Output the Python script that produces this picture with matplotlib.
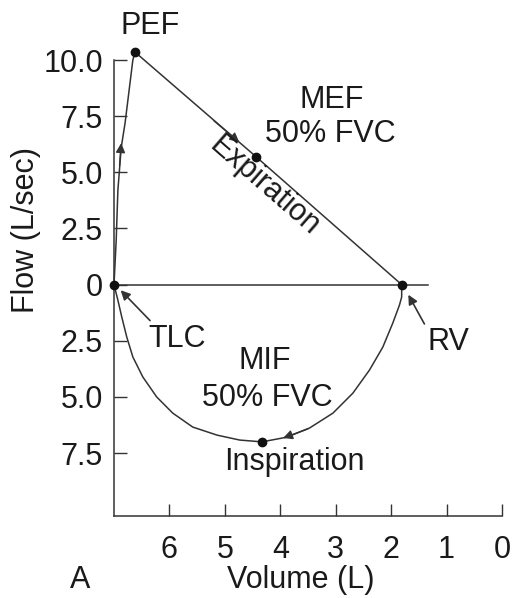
import matplotlib
matplotlib.use("Agg")
import matplotlib.pyplot as plt

plt.rcParams['font.family'] = ['Liberation Sans', 'DejaVu Sans']

# ---- data ----
# expiratory rise TLC -> PEF
exp_rise_vol = [7.0, 6.96, 6.93, 6.87, 6.80, 6.71, 6.66, 6.62]
exp_rise_flow = [0.0, 2.0, 4.2, 6.1, 7.2, 9.0, 10.0, 10.35]
# expiratory descending limb PEF -> MEF -> RV
exp_fall_vol = [6.62, 4.44, 1.81]
exp_fall_flow = [10.35, 5.7, 0.0]
# inspiratory limb RV -> MIF -> TLC
insp_vol = [1.81, 1.81, 1.85, 1.97, 2.15, 2.39, 2.69, 3.05, 3.47, 3.88,
            4.33, 4.73, 5.14, 5.58, 5.94, 6.23, 6.48, 6.66, 6.77, 6.86,
            6.93, 7.0]
insp_flow = [0.0, -0.55, -0.91, -1.71, -2.78, -3.80, -4.83, -5.72, -6.38,
             -6.79, -7.0, -6.92, -6.70, -6.34, -5.72, -5.0, -4.11, -3.22,
             -2.33, -1.44, -0.69, 0.0]
# marked points
pt_vol = [6.62, 4.44, 1.81, 7.0, 4.33]
pt_flow = [10.35, 5.7, 0.0, 0.0, -7.0]
# zero flow line
zero_vol = [7.0, 1.34]
zero_flow = [0.0, 0.0]

x_ticks = [6, 5, 4, 3, 2, 1, 0]
x_labels = ['6', '5', '4', '3', '2', '1', '0']
y_ticks = [10, 7.5, 5, 2.5, 0, -2.5, -5, -7.5]
y_labels = ['10.0', '7.5', '5.0', '2.5', '0', '2.5', '5.0', '7.5']

LC = '#333333'
TC = '#1a1a1a'
FS = 22

fig = plt.figure(figsize=(5.15, 5.98), dpi=100)
ax = fig.add_axes([114/515, 1-516/598, (502-114)/515, (516-60)/598])
ax.set_xlim(7, 0)
ax.set_ylim(-10.3, 10)

for s in ['top', 'right']:
    ax.spines[s].set_visible(False)
for s in ['left', 'bottom']:
    ax.spines[s].set_color(LC)
    ax.spines[s].set_linewidth(1.1)

ax.set_xticks(x_ticks)
ax.set_xticklabels(x_labels)
ax.set_yticks(y_ticks)
ax.set_yticklabels(y_labels)
ax.tick_params(axis='both', direction='in', length=9, width=1.0, color=LC,
               labelsize=FS, labelcolor=TC)
ax.tick_params(axis='x', pad=14)
ax.tick_params(axis='y', pad=8)

lw = 1.1
ax.plot(zero_vol, zero_flow, color=LC, lw=lw, clip_on=False)
ax.plot(exp_rise_vol, exp_rise_flow, color=LC, lw=lw, clip_on=False)
ax.plot(exp_fall_vol, exp_fall_flow, color=LC, lw=lw, clip_on=False)
ax.plot(insp_vol, insp_flow, color=LC, lw=lw, clip_on=False)
ax.plot(pt_vol, pt_flow, 'o', color='#111111', ms=6, clip_on=False, zorder=5)

# direction arrowheads along the loop
ap = dict(arrowstyle='-|>', color=LC, lw=1.0, mutation_scale=14, shrinkA=0, shrinkB=0)
ax.annotate('', xy=(6.87, 6.3), xytext=(6.90, 5.3), arrowprops=ap)
ax.annotate('', xy=(4.74, 6.34), xytext=(5.2, 7.3), arrowprops=ap)
ax.annotate('', xy=(3.95, -6.83), xytext=(3.5, -6.42), arrowprops=ap)

# pointer arrows
ap2 = dict(arrowstyle='-|>', color=LC, lw=1.2, mutation_scale=14, shrinkA=0, shrinkB=0)
ax.annotate('', xy=(6.88, -0.25), xytext=(6.35, -1.6), arrowprops=ap2)
ax.annotate('', xy=(1.69, -0.45), xytext=(1.40, -1.75), arrowprops=ap2)

# labels
kw = dict(fontsize=FS, color=TC, ha='center', va='center')
ax.text(6.35, 11.5, 'PEF', **kw, clip_on=False)
ax.text(3.07, 8.2, 'MEF', **kw)
ax.text(3.09, 6.7, '50% FVC', **kw)
ax.text(4.28, 4.4, 'Expiration', rotation=-41, rotation_mode='anchor', **kw)
ax.text(5.86, -2.4, 'TLC', **kw)
ax.text(0.96, -2.55, 'RV', **kw)
ax.text(4.28, -3.4, 'MIF', **kw)
ax.text(4.24, -5.05, '50% FVC', **kw)
ax.text(3.74, -7.9, 'Inspiration', **kw)

fig.text(26/515, 1-230/598, 'Flow (L/sec)', rotation=90, fontsize=FS,
         color=TC, ha='center', va='center')
fig.text(301/515, 1-580/598, 'Volume (L)', fontsize=FS, color=TC,
         ha='center', va='center')
fig.text(80/515, 1-580/598, 'A', fontsize=FS, color=TC, ha='center', va='center')

fig.savefig('out.png', dpi=100, facecolor='white')
